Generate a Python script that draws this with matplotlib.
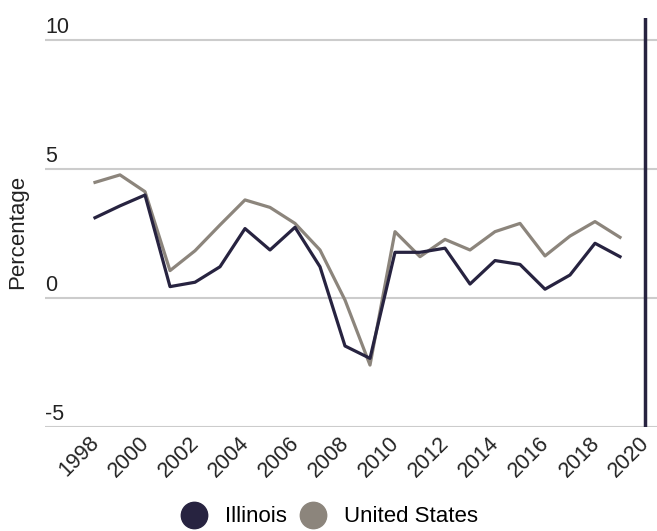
import matplotlib.pyplot as plt
import matplotlib.transforms as mtransforms
from matplotlib.lines import Line2D

plt.rcParams['font.family'] = ['Liberation Sans', 'DejaVu Sans']

years = list(range(1998, 2020))
illinois = [3.11, 3.57, 3.99, 0.44, 0.61, 1.21, 2.69, 1.86, 2.74, 1.21, -1.86, -2.34,
            1.77, 1.77, 1.93, 0.54, 1.45, 1.30, 0.34, 0.89, 2.12, 1.60]
united_states = [4.48, 4.77, 4.12, 1.06, 1.83, 2.83, 3.80, 3.51, 2.89, 1.86, -0.08, -2.60,
                 2.57, 1.60, 2.27, 1.86, 2.57, 2.89, 1.63, 2.40, 2.96, 2.35]
xticks = list(range(1998, 2021, 2))
yticks = [-5, 0, 5, 10]

navy = '#272340'
grey = '#8c857c'

fig = plt.figure(figsize=(6.57, 5.31), dpi=100)
ax = fig.add_axes([45/657, 1 - 427/531, 612/657, 409/531])

ax.plot(years, united_states, color=grey, lw=2.3, zorder=3)
ax.plot(years, illinois, color=navy, lw=2.3, zorder=4)
ax.axvline(2020, color=navy, lw=2.5, zorder=5)

ax.set_xlim(1996, 2020.48)
ax.set_ylim(-5, 10.85)
for y in yticks:
    ax.axhline(y, color='#cccccc', lw=1.5, zorder=1)
    ax.text(1996, y + 0.27, str(y), fontsize=15.5, color='#222222', ha='left', va='baseline')

ax.set_yticks([])
ax.set_xticks(xticks)
ax.set_xticklabels([str(x) for x in xticks], rotation=45, ha='right',
                   rotation_mode='anchor', fontsize=15.5, color='#222222')
ax.tick_params(axis='x', length=0, pad=4)
shift = mtransforms.ScaledTranslation(-6/100, 0, fig.dpi_scale_trans)
for lab in ax.get_xticklabels():
    lab.set_transform(lab.get_transform() + shift)
for s in ax.spines.values():
    s.set_visible(False)

fig.text(18/657, 1 - 232/531, 'Percentage', rotation=90, fontsize=16,
         color='#222222', ha='center', va='center')

handles = [Line2D([], [], marker='o', ls='', color=navy, markersize=19),
           Line2D([], [], marker='o', ls='', color=grey, markersize=19)]
fig.legend(handles, ['Illinois', 'United States'], loc='center',
           bbox_to_anchor=(325/657, 1 - 517/531), ncol=2, frameon=False,
           fontsize=16, handletextpad=0.4, columnspacing=0.2)

fig.savefig('out.png', dpi=100)
